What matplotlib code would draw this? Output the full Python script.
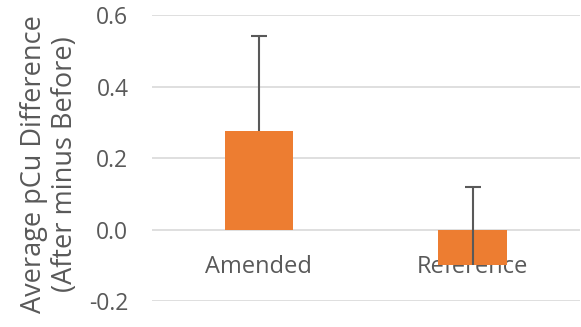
import matplotlib.pyplot as plt

categories = ['Amended', 'Reference']
values = [0.275, -0.10]
err_plus = [0.266, 0.218]
yticks = [-0.2, 0.0, 0.2, 0.4, 0.6]

plt.rcParams['font.family'] = ['Open Sans', 'DejaVu Sans']

fig = plt.figure(figsize=(5.81, 3.27), dpi=100)
ax = fig.add_axes([0.2616, 0.0795, 0.736, 0.8746])

x = list(range(len(categories)))
tops = [v + e for v, e in zip(values, err_plus)]
ax.bar(x, values, width=0.32, color='#ED7D31', zorder=2)
# plus-only error bars: stem + top cap
ax.vlines(x, values, tops, color='#595959', linewidth=1.5, zorder=3)
ax.plot(x, tops, linestyle='none', marker='_', markersize=12,
        markeredgewidth=1.5, color='#595959', zorder=3)

ax.set_xlim(-0.5, 1.5)
ax.set_ylim(-0.2, 0.6)
ax.set_yticks(yticks)
ax.set_yticklabels(['%.1f' % v for v in yticks])
ax.yaxis.grid(True, color='#d9d9d9', linewidth=1.2, zorder=0)
ax.set_axisbelow(True)
for s in ax.spines.values():
    s.set_visible(False)
ax.spines['bottom'].set_position(('data', 0))
ax.set_xticks(x)
ax.set_xticklabels(categories)
ax.tick_params(axis='y', length=0, pad=17, labelsize=16.5, labelcolor='#595959')
ax.tick_params(axis='x', length=0, pad=18, labelsize=17, labelcolor='#595959')
for lbl in ax.get_xticklabels():
    lbl.set_zorder(5)

ax.set_ylabel('Average pCu Difference\n(After minus Before)', fontsize=19.5,
              color='#595959', linespacing=1.15)
ax.yaxis.set_label_coords(-0.17, 0.48)

fig.savefig('out.png', dpi=100)
